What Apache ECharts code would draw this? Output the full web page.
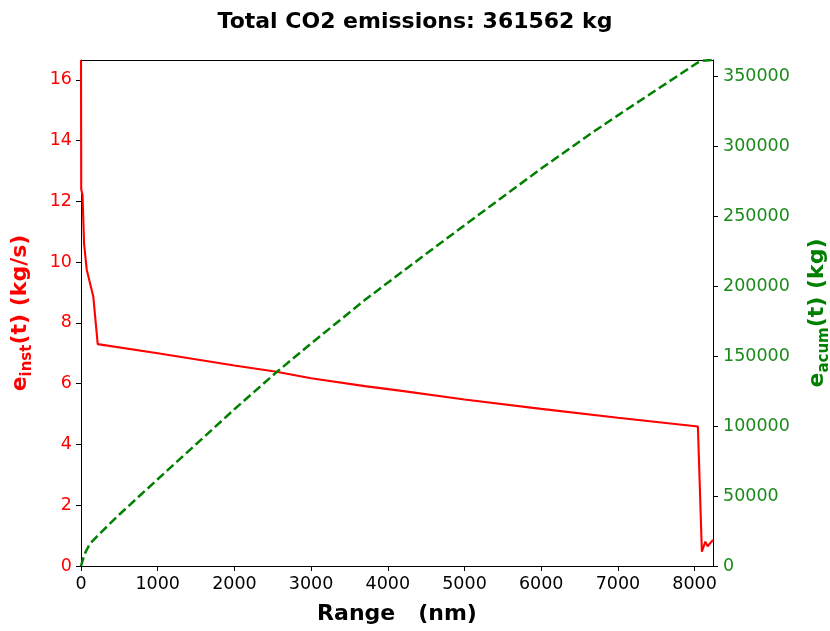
<!DOCTYPE html>
<html>
<head>
<meta charset="utf-8">
<script src="https://cdn.jsdelivr.net/npm/echarts@6/dist/echarts.min.js"></script>
<style>html,body{margin:0;padding:0;background:#fff;}#c{width:830px;height:631px;}</style>
</head>
<body>
<div id="c"></div>
<script>
// Data
const titleText = 'Total CO2 emissions: 361562 kg';
const rangeInst = [0, 3, 20, 40, 75, 108, 160, 218, 1000, 2000, 2528, 3000, 3700, 4157, 5000, 6000, 7000, 8043, 8095, 8140, 8170, 8240];
const eInst     = [16.65, 12.4, 12.2, 10.6, 9.75, 9.4, 8.87, 7.3, 7.0, 6.6, 6.4, 6.18, 5.92, 5.77, 5.48, 5.17, 4.88, 4.59, 0.47, 0.8, 0.65, 0.86];
const rangeAcum = [0, 30, 60, 117, 247, 500, 1000, 1500, 2000, 2528, 3000, 3700, 4157, 5000, 6000, 6675, 7000, 8043, 8095, 8240];
const eAcum     = [0, 5500, 10000, 16000, 23300, 36800, 62000, 87000, 112000, 137500, 159000, 190000, 209000, 243500, 284000, 310000, 322000, 359800, 360900, 361562];
const xMax = 8240;
const yLeftMax = 16.65;
const yRightMax = 361562;

const FONT = 'DejaVu Sans';
const instPts = rangeInst.map((x, i) => [x, eInst[i]]);
const acumPts = rangeAcum.map((x, i) => [x, eAcum[i]]);

const chart = echarts.init(document.getElementById('c'), null, {renderer: 'canvas'});
chart.setOption({
  animation: false,
  backgroundColor: '#fff',
  title: {
    text: titleText,
    left: 'center',
    top: 6,
    textStyle: {fontFamily: FONT, fontSize: 22, fontWeight: 'bold', color: '#000'}
  },
  grid: {left: 81, right: 117, top: 60, bottom: 65, show: false,
         containLabel: false, outerBoundsMode: 'none'},
  xAxis: [{
    type: 'value', min: 0, max: xMax, interval: 1000, position: 'bottom',
    name: 'Range   (nm)', nameLocation: 'middle', nameGap: 37,
    nameTextStyle: {fontFamily: FONT, fontSize: 22, fontWeight: 'bold', color: '#000'},
    axisLine: {show: true, onZero: false, lineStyle: {color: '#000', width: 1}},
    axisTick: {show: true, length: 5, lineStyle: {color: '#000'}},
    axisLabel: {fontFamily: FONT, fontSize: 17.5, color: '#000', margin: 9, showMaxLabel: false,
                formatter: v => String(v)},
    splitLine: {show: false}
  }, {
    type: 'value', min: 0, max: xMax, position: 'top',
    axisLine: {show: true, onZero: false, lineStyle: {color: '#000', width: 1}},
    axisTick: {show: false}, axisLabel: {show: false}, splitLine: {show: false}
  }],
  yAxis: [{
    type: 'value', min: 0, max: yLeftMax, interval: 2, position: 'left',
    name: '{a|e}{s|inst}{a|(t) (kg/s)}', nameLocation: 'middle', nameGap: 46, nameRotate: 90,
    nameTextStyle: {
      color: '#ff0000',
      rich: {
        a: {fontFamily: FONT, fontSize: 22, fontWeight: 'bold', color: '#ff0000', lineHeight: 30, verticalAlign: 'middle'},
        s: {fontFamily: FONT, fontSize: 15, fontWeight: 'bold', color: '#ff0000', verticalAlign: 'bottom'}
      }
    },
    axisLine: {show: true, onZero: false, lineStyle: {color: '#000'}},
    axisTick: {show: true, length: 5, lineStyle: {color: '#000'}},
    axisLabel: {fontFamily: FONT, fontSize: 17.5, color: '#ff0000', margin: 9, showMaxLabel: false,
                formatter: v => String(v)},
    splitLine: {show: false}
  }, {
    type: 'value', min: 0, max: yRightMax, interval: 50000, position: 'right',
    name: '{a|e}{s|acum}{a|(t) (kg)}', nameLocation: 'middle', nameGap: 89, nameRotate: 90,
    nameTextStyle: {
      color: '#008000',
      rich: {
        a: {fontFamily: FONT, fontSize: 22, fontWeight: 'bold', color: '#008000', lineHeight: 30, verticalAlign: 'middle'},
        s: {fontFamily: FONT, fontSize: 15, fontWeight: 'bold', color: '#008000', verticalAlign: 'bottom'}
      }
    },
    axisLine: {show: true, onZero: false, lineStyle: {color: '#000'}},
    axisTick: {show: true, length: 5, lineStyle: {color: '#000'}},
    axisLabel: {fontFamily: FONT, fontSize: 17.5, color: '#1a8a1a', margin: 10, showMaxLabel: false,
                formatter: v => String(v)},
    splitLine: {show: false}
  }],
  series: [{
    type: 'line', xAxisIndex: 0, yAxisIndex: 0, data: instPts, showSymbol: false, symbol: 'none',
    lineStyle: {color: '#ff0000', width: 2.1}, z: 2
  }, {
    type: 'line', xAxisIndex: 0, yAxisIndex: 1, data: acumPts, showSymbol: false, symbol: 'none',
    lineStyle: {color: '#008000', width: 2.5, type: [9, 4]}, z: 3
  }]
});
</script>
</body>
</html>
